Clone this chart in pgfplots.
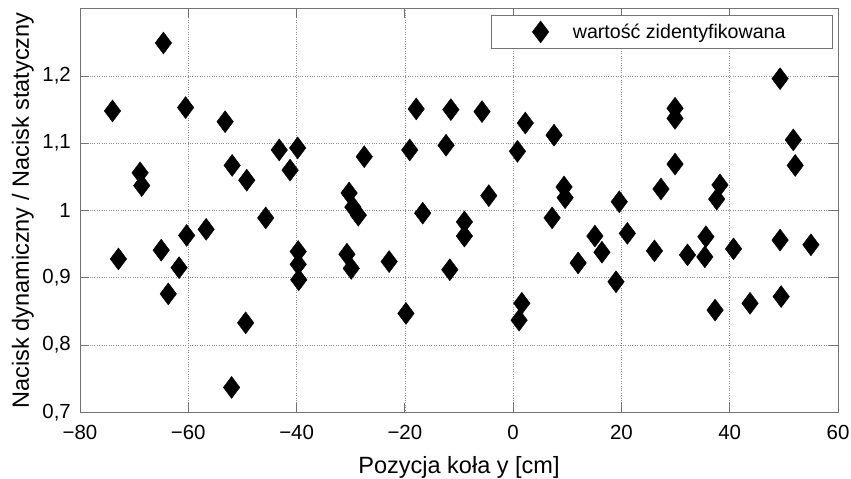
\documentclass[border=0pt]{standalone}
\usepackage{fontspec}
\setmainfont{Liberation Sans}
\usepackage{pgfplots}
\pgfplotsset{compat=1.18}
\begin{document}
\begin{tikzpicture}
\begin{axis}[
  at={(0,0)}, anchor=south west,
  scale only axis, width=758bp, height=403.6bp,
  xmin=-80, xmax=60, ymin=0.7, ymax=1.3,
  xtick={-80,-60,-40,-20,0,20,40,60},
  xticklabels={−80,−60,−40,−20,0,20,40,60},
  ytick={0.7,0.8,0.9,1.0,1.1,1.2},
  yticklabels={{0,7},{0,8},{0,9},{1},{1,1},{1,2}},
  tick align=inside, xtick pos=both, ytick pos=both,
  major tick length=9bp,
  axis line style={draw=black!55, line width=0.8bp},
  every tick/.style={draw=black!55, line width=0.8bp},
  grid=major, major grid style={dotted, draw=black!45, line width=0.6bp},
  tick label style={font=\fontsize{20.5}{24}\selectfont},
  xticklabel style={inner sep=0pt, yshift=-13bp},
  yticklabel style={inner sep=0pt, xshift=-9bp},
  label style={font=\fontsize{23.6}{28}\selectfont},
  xlabel={Pozycja koła y [cm]},
  ylabel={Nacisk dynamiczny / Nacisk statyczny},
  xlabel style={at={(axis description cs:0.5,-0.1511)}, anchor=base, inner sep=0pt},
  ylabel style={at={(axis description cs:-0.0673,0.5)}, anchor=base, inner sep=0pt},
  legend style={at={(axis description cs:1,1)}, anchor=north east, xshift=-5bp, yshift=-6.3bp,
    draw=black!55, line width=0.8bp, inner sep=0pt,
    font=\fontsize{19.7}{23}\selectfont,
    nodes={inner sep=0pt}},
  legend image code/.code={\path[draw=none, fill=none] (0bp,-16.5bp) rectangle (81bp,16.5bp); \draw[#1] plot coordinates {(48.7bp,0bp)};},
]
\addplot[only marks, mark=diamond*, mark size=11bp, mark options={fill=black, draw=black, line width=0.4bp}] coordinates {
(-74.0,1.148) (-72.9,0.928) (-68.9,1.056) (-68.6,1.037) (-64.6,1.249)
(-65.0,0.941) (-63.7,0.876) (-60.5,1.153) (-61.7,0.915) (-60.3,0.963)
(-56.7,0.972) (-53.2,1.132) (-51.9,1.067) (-49.2,1.045) (-49.4,0.833)
(-52.0,0.737) (-45.7,0.989) (-43.2,1.090) (-41.2,1.060) (-39.8,1.093)
(-39.7,0.939) (-39.7,0.920) (-39.6,0.897) (-30.7,0.935) (-29.9,0.914)
(-30.3,1.026) (-29.6,1.005) (-28.6,0.993) (-27.5,1.080) (-22.9,0.924)
(-19.8,0.847) (-19.1,1.090) (-17.9,1.151) (-16.7,0.996) (-11.5,1.150)
(-12.4,1.097) (-11.7,0.912) (-9.0,0.983) (-9.0,0.962) (-5.75,1.147)
(-4.5,1.022) (0.8,1.088) (2.25,1.130) (1.6,0.862) (1.1,0.837)
(7.55,1.112) (7.2,0.989) (9.4,1.035) (9.6,1.019) (12.0,0.922)
(15.1,0.962) (16.4,0.938) (19.0,0.894) (19.6,1.013) (21.1,0.966)
(26.1,0.940) (27.3,1.032) (29.9,1.152) (29.9,1.137) (29.9,1.069)
(32.2,0.934) (35.6,0.961) (35.4,0.931) (37.3,0.852) (37.6,1.017)
(38.2,1.038) (40.7,0.943) (43.75,0.862) (49.3,1.196) (49.3,0.956)
(49.5,0.872) (51.75,1.105) (52.1,1.067) (55.0,0.949)
};
\addlegendentry{wartość zidentyfikowana\hspace*{47bp}}
\end{axis}
\pgfresetboundingbox
\path (-80bp,-66.7bp) rectangle (771bp,412.3bp);
\end{tikzpicture}
\end{document}
